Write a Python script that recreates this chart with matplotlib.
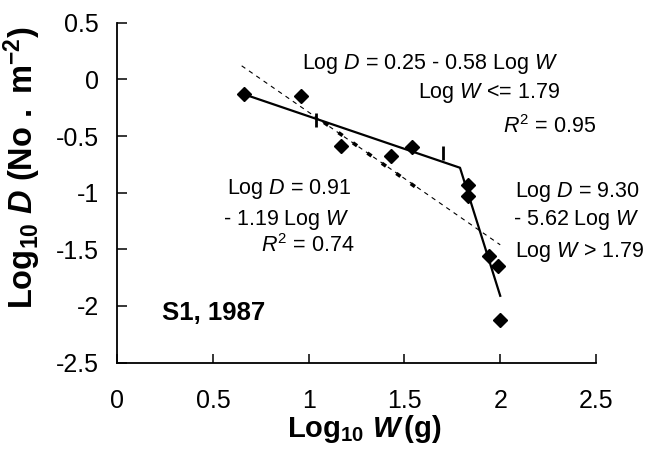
import matplotlib
matplotlib.use("Agg")
import matplotlib.pyplot as plt

plt.rcParams['font.family'] = ['Liberation Sans', 'DejaVu Sans']
plt.rcParams['mathtext.fontset'] = 'custom'
plt.rcParams['mathtext.rm'] = 'Liberation Sans'
plt.rcParams['mathtext.it'] = 'Liberation Sans:italic'
plt.rcParams['mathtext.bf'] = 'Liberation Sans:bold'
plt.rcParams['mathtext.bfit'] = 'Liberation Sans:bold:italic'

# observed points
log_w = [0.66, 0.96, 1.17, 1.43, 1.54, 1.83, 1.83, 1.94, 1.99, 2.00]
log_d = [-0.13, -0.15, -0.59, -0.68, -0.60, -0.93, -1.03, -1.56, -1.65, -2.12]

# piecewise fit (break at 1.79)
pw_x = [0.66, 1.79, 2.00]
pw_y = [-0.13, -0.78, -1.91]

# single linear fit
lin_x = [0.65, 2.00]
lin_y = [0.12, -1.46]
lin_bold_x = [1.08, 1.60]
lin_bold_y = [-0.38, -1.00]

# confidence marks on the broken line
mark_x = [1.04, 1.70]
mark_y = [-0.36, -0.65]

fig = plt.figure(figsize=(6.51, 4.55), dpi=100)
ax = fig.add_axes([0.180, 0.203, 0.7355, 0.747])

ax.plot(lin_x, lin_y, color='black', lw=0.8, ls=(0, (4, 4)))
ax.plot(lin_bold_x, lin_bold_y, color='black', lw=2.6, ls=(0, (1.4, 3.5)))
ax.plot(pw_x, pw_y, color='black', lw=1.6)
ax.plot(mark_x, mark_y, ls='none', marker='|', ms=9.5, mew=2, color='black')
ax.plot(log_w, log_d, ls='none', marker='D', ms=7, color='black')

ax.set_xlim(0, 2.5)
ax.set_ylim(-2.5, 0.5)
ax.set_xticks([0, 0.5, 1, 1.5, 2, 2.5])
ax.set_xticklabels(['0', '0.5', '1', '1.5', '2', '2.5'])
ax.set_yticks([-2.5, -2, -1.5, -1, -0.5, 0, 0.5])
ax.set_yticklabels(['-2.5', '-2', '-1.5', '-1', '-0.5', '0', '0.5'])
for s in ['top', 'right']:
    ax.spines[s].set_visible(False)
for s in ['left', 'bottom']:
    ax.spines[s].set_linewidth(1.3)
ax.tick_params(axis='x', direction='in', length=6.5, width=1.1, labelsize=18, pad=19)
ax.tick_params(axis='y', direction='in', length=7, width=1.1, labelsize=18, pad=13)

ax.set_xlabel(r'$\mathbf{Log_{10}}\ \mathbfit{W}\,\mathbf{(g)}$', fontsize=21)
ax.xaxis.set_label_coords(0.516, -0.148)
ax.set_ylabel(r'$\mathbf{Log_{10}}\ \mathbfit{D}\ \mathbf{(No\ .\ m^{-2})}$', fontsize=23.5)
ax.yaxis.set_label_coords(-0.155, 0.574)

fs = 15.5
ax.text(0.966, 0.092, r'Log $\mathit{D}$ = 0.25 - 0.58 Log $\mathit{W}$', fontsize=fs, va='baseline')
ax.text(1.573, -0.166, r'Log $\mathit{W}$ <= 1.79', fontsize=fs, va='baseline')
ax.text(2.016, -0.475, r'$\mathit{R}^{2}$ = 0.95', fontsize=fs, va='baseline')
ax.text(0.573, -1.014, r'Log $\mathit{D}$ = 0.91', fontsize=fs, va='baseline')
ax.text(0.555, -1.285, r'- 1.19 Log $\mathit{W}$', fontsize=fs, va='baseline')
ax.text(0.752, -1.52, r'$\mathit{R}^{2}$ = 0.74', fontsize=fs, va='baseline')
ax.text(2.077, -1.035, r'Log $\mathit{D}$ = 9.30', fontsize=fs, va='baseline')
ax.text(2.068, -1.285, r'- 5.62 Log $\mathit{W}$', fontsize=fs, va='baseline')
ax.text(2.077, -1.564, r'Log $\mathit{W}$ > 1.79', fontsize=fs, va='baseline')
ax.text(0.235, -2.123, 'S1, 1987', fontsize=18.5, fontweight='bold', va='baseline')

fig.savefig('out.png', dpi=100)
